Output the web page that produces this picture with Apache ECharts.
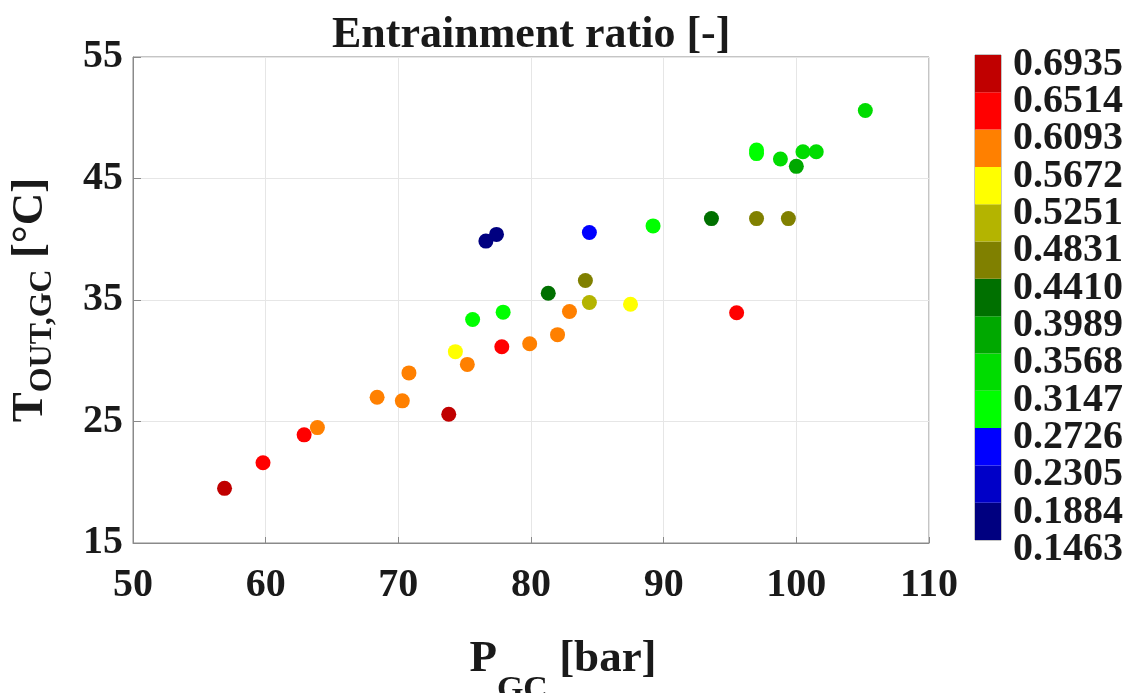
<!DOCTYPE html>
<html>
<head>
<meta charset="utf-8">
<title>Entrainment ratio</title>
<script src="https://cdn.jsdelivr.net/npm/echarts@6/dist/echarts.min.js"></script>
<style>
  html, body { margin: 0; padding: 0; background: #ffffff; }
  #chart { width: 1129px; height: 693px; }
</style>
</head>
<body>
<div id="chart"></div>
<script>
// Gas-cooler pressure [bar], gas-cooler outlet temperature [°C] and entrainment ratio [-]
const pressure = [56.9, 59.8, 62.9, 63.9, 68.4, 70.3, 70.8, 73.8, 74.3, 75.2, 75.6, 77.9,
                  77.8, 79.9, 82.0, 82.9, 81.3, 84.1, 84.4, 87.5, 95.5, 76.6, 77.4, 84.4,
                  89.2, 93.6, 97.0, 99.4, 97.0, 97.0, 98.8, 100.5, 101.5, 100.0, 105.2];
const tempOut  = [19.5, 21.6, 23.9, 24.5, 27.0, 26.7, 29.0, 25.6, 30.75, 29.7, 33.4, 34.0,
                  31.15, 31.4, 32.15, 34.05, 35.55, 36.6, 34.8, 34.65, 33.95, 39.85, 40.4, 40.55,
                  41.1, 41.7, 41.7, 41.7, 47.35, 47.05, 46.6, 47.2, 47.2, 46.0, 50.6];
const ratio    = [0.67, 0.63, 0.63, 0.59, 0.59, 0.59, 0.59, 0.67, 0.545, 0.59, 0.30, 0.31,
                  0.63, 0.59, 0.59, 0.59, 0.42, 0.46, 0.50, 0.545, 0.63, 0.165, 0.165, 0.25,
                  0.30, 0.42, 0.46, 0.46, 0.30, 0.30, 0.335, 0.335, 0.335, 0.38, 0.335];

// Colour-bar boundaries (ascending) and the colour of each band between them
const ratioTicks = [0.1463, 0.1884, 0.2305, 0.2726, 0.3147, 0.3568, 0.3989,
                    0.4410, 0.4831, 0.5251, 0.5672, 0.6093, 0.6514, 0.6935];
const bandColors = ['#000080', '#0000c8', '#0000ff', '#00ff00', '#00dc00', '#00a800',
                    '#007000', '#808000', '#b4b400', '#ffff00', '#ff8000', '#ff0000', '#c00000'];

const FONT = '"Liberation Serif", "Times New Roman", serif';
const TXT = '#1a1a1a';

const points = pressure.map((p, i) => [p, tempOut[i], ratio[i]]);

const pieces = bandColors.map((c, i) => ({
  gte: ratioTicks[i],
  lt: ratioTicks[i + 1] + (i === bandColors.length - 1 ? 1e-9 : 0),
  color: c
}));

// One stacked segment per colour band (drawn against the hidden value axis of the bar)
const barSeries = bandColors.map(c => ({
  type: 'bar',
  xAxisIndex: 1,
  yAxisIndex: 1,
  stack: 'colorbar',
  barWidth: '100%',
  silent: true,
  data: [1],
  itemStyle: { color: c, opacity: 1 }
}));

const chart = echarts.init(document.getElementById('chart'), null, { renderer: 'canvas' });

chart.setOption({
  animation: false,
  backgroundColor: '#ffffff',
  title: {
    text: 'Entrainment ratio [-]',
    left: 327,
    top: 9,
    textStyle: { fontFamily: FONT, fontWeight: 'bold', fontSize: 44, color: TXT }
  },
  grid: [
    { left: 133, top: 57, width: 796, height: 486, show: true, outerBoundsMode: 'none',
      containLabel: false, borderColor: '#8a8a8a', borderWidth: 1, backgroundColor: '#ffffff' },
    { left: 975, top: 55, width: 26, height: 485, show: true, outerBoundsMode: 'none',
      containLabel: false, borderColor: '#8a8a8a', borderWidth: 1 }
  ],
  visualMap: {
    type: 'piecewise',
    show: false,
    seriesIndex: 0,
    dimension: 2,
    pieces: pieces
  },
  xAxis: [
    {
      type: 'value', gridIndex: 0, min: 50, max: 110, interval: 10,
      name: '{m|P}{s|GC}{m| [bar]}',
      nameLocation: 'middle', nameGap: 68,
      nameTextStyle: {
        padding: [0, 0, 0, 64],
        rich: {
          m: { fontFamily: FONT, fontWeight: 'bold', fontSize: 45, color: TXT },
          s: { fontFamily: FONT, fontWeight: 'bold', fontSize: 34, color: TXT, padding: [62, 0, 0, 0] }
        }
      },
      axisLine: { show: true, lineStyle: { color: '#8a8a8a' } },
      axisTick: { show: true, inside: true, length: 6, lineStyle: { color: '#8a8a8a' } },
      axisLabel: { fontFamily: FONT, fontWeight: 'bold', fontSize: 40, color: TXT, margin: 23 },
      splitLine: { show: true, lineStyle: { color: '#e6e6e6' } }
    },
    { type: 'category', gridIndex: 1, data: [''], show: false }
  ],
  yAxis: [
    {
      type: 'value', gridIndex: 0, min: 15, max: 55, interval: 10,
      name: '{m|T}{s|OUT,GC}{m| [°C]}',
      nameLocation: 'middle', nameGap: 74, nameRotate: 90,
      nameTextStyle: {
        rich: {
          m: { fontFamily: FONT, fontWeight: 'bold', fontSize: 45, color: TXT },
          s: { fontFamily: FONT, fontWeight: 'bold', fontSize: 32, color: TXT, padding: [26, 0, 0, 0] }
        }
      },
      axisLine: { show: true, lineStyle: { color: '#8a8a8a' } },
      axisTick: { show: true, inside: true, length: 8, lineStyle: { color: '#8a8a8a' } },
      axisLabel: { fontFamily: FONT, fontWeight: 'bold', fontSize: 40, color: TXT, margin: 10 },
      splitLine: { show: true, lineStyle: { color: '#e6e6e6' } }
    },
    {
      // value scale of the colour-bar segments
      type: 'value', gridIndex: 1, min: 0, max: bandColors.length, interval: 1, show: false
    },
    {
      // colour-bar tick labels at the band boundaries
      type: 'category', gridIndex: 1, position: 'right', boundaryGap: false,
      data: ratioTicks.map(v => v.toFixed(4)),
      axisLine: { show: false },
      axisTick: { show: false },
      splitLine: { show: false },
      axisLabel: {
        interval: 0,
        fontFamily: FONT, fontWeight: 'bold', fontSize: 40, color: TXT, margin: 12,
        verticalAlign: 'top', lineHeight: 19
      }
    }
  ],
  series: [
    {
      type: 'scatter',
      xAxisIndex: 0,
      yAxisIndex: 0,
      symbol: 'circle',
      symbolSize: 15,
      itemStyle: { opacity: 1 },
      data: points,
      z: 3
    }
  ].concat(barSeries)
});
</script>
</body>
</html>
